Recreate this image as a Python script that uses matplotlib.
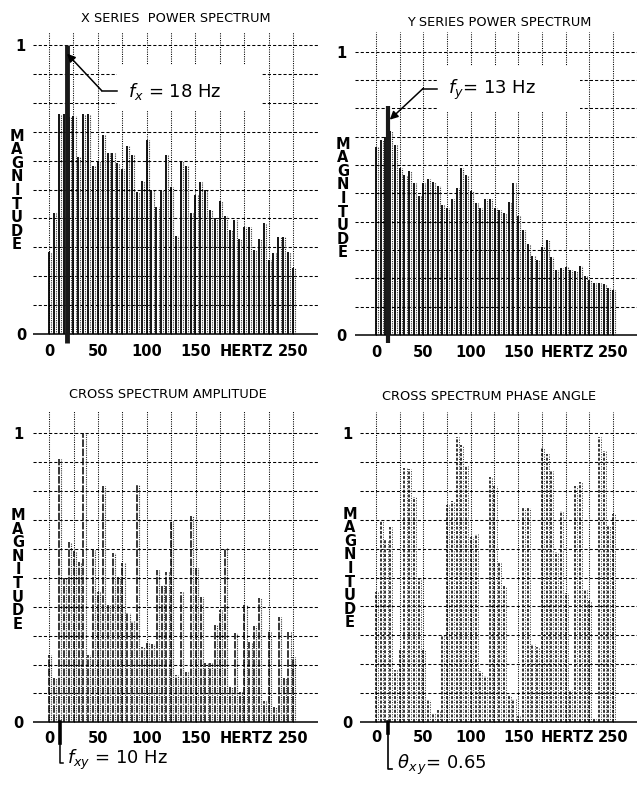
import matplotlib
matplotlib.use("Agg")
import matplotlib.pyplot as plt
from matplotlib.patches import Rectangle

W, H = 640, 787

# ---------------- data ----------------
FREQ_HZ = list(range(0, 255, 5))

X_POWER = [0.285, 0.42, 0.76, 0.76, 0.75, 0.754, 0.613, 0.76, 0.76, 0.58,
           0.60, 0.69, 0.625, 0.625, 0.59, 0.57, 0.65, 0.62, 0.49, 0.53,
           0.67, 0.50, 0.44, 0.50, 0.62, 0.51, 0.34, 0.60, 0.58, 0.42,
           0.48, 0.527, 0.50, 0.43, 0.40, 0.46, 0.41, 0.36, 0.395, 0.33,
           0.37, 0.37, 0.29, 0.33, 0.385, 0.256, 0.28, 0.337, 0.337, 0.285,
           0.23]

Y_POWER = [0.665, 0.69, 0.70, 0.72, 0.67, 0.59, 0.565, 0.58, 0.535, 0.49,
           0.535, 0.55, 0.54, 0.525, 0.46, 0.45, 0.48, 0.52, 0.59, 0.565,
           0.51, 0.465, 0.45, 0.48, 0.48, 0.45, 0.44, 0.43, 0.47, 0.535,
           0.42, 0.37, 0.32, 0.28, 0.265, 0.31, 0.335, 0.275, 0.23, 0.235,
           0.24, 0.23, 0.227, 0.243, 0.21, 0.195, 0.185, 0.185, 0.18, 0.165,
           0.16]

CROSS_AMP = [0.233, 0.155, 0.91, 0.50, 0.625, 0.594, 0.556, 1.0, 0.233, 0.596,
             0.45, 0.818, 0.406, 0.585, 0.504, 0.552, 0.377, 0.35, 0.82, 0.26,
             0.273, 0.27, 0.527, 0.475, 0.521, 0.70, 0.164, 0.452, 0.175, 0.714,
             0.533, 0.435, 0.204, 0.204, 0.337, 0.389, 0.602, 0.123, 0.308, 0.106,
             0.406, 0.279, 0.333, 0.429, 0.072, 0.316, 0.054, 0.366, 0.155, 0.311,
             0.227]

CROSS_PHASE = [0.45, 0.697, 0.63, 0.675, 0.18, 0.25, 0.88, 0.875, 0.78, 0.50,
               0.25, 0.075, 0.03, 0.04, 0.30, 0.75, 0.765, 0.986, 0.96, 0.887,
               0.64, 0.65, 0.175, 0.16, 0.85, 0.817, 0.555, 0.47, 0.09, 0.08,
               0.02, 0.74, 0.74, 0.27, 0.26, 0.95, 0.93, 0.87, 0.59, 0.73,
               0.445, 0.11, 0.817, 0.83, 0.457, 0.42, 0.01, 0.986, 0.94, 0.68,
               0.72]

TITLES = ["X SERIES  POWER SPECTRUM", "Y SERIES POWER SPECTRUM",
          "CROSS SPECTRUM AMPLITUDE", "CROSS SPECTRUM PHASE ANGLE"]
XTICK_VALUES = [0, 50, 100, 150, 202, 250]
XTICK_LABELS = ["0", "50", "100", "150", "HERTZ", "250"]
YTICK_VALUES = [0, 1]
YTICK_LABELS = ["0", "1"]
GRID_Y = [0.1, 0.2, 0.3, 0.4, 0.5, 0.6, 0.7, 0.8, 0.9, 1.0]
GRID_X = [0, 25, 50, 75, 100, 125, 150, 175, 200, 225, 250]
YLABEL = "MAGNITUDE"

X_PEAK_HZ, X_PEAK_MAG = 18, 1.0
Y_PEAK_HZ, Y_PEAK_MAG = 13, 0.81
FXY_HZ = 10
THETA_XY = 0.65

# ---------------- layout helpers ----------------
fig = plt.figure(figsize=(W / 100, H / 100), dpi=100)
fig.patch.set_facecolor("white")


def make_ax(x0, kx, y0, ky, xlim, ylim):
    left = (x0 + xlim[0] * kx) / W
    width = (xlim[1] - xlim[0]) * kx / W
    bottom_px = y0 - ylim[0] * ky
    top_px = y0 - ylim[1] * ky
    ax = fig.add_axes([left, 1 - bottom_px / H, width, (bottom_px - top_px) / H])
    ax.set_xlim(xlim)
    ax.set_ylim(ylim)
    ax.set_facecolor("none")
    for s in ax.spines.values():
        s.set_visible(False)
    return ax


def fpx(x, y):
    return x / W, 1 - y / H


def draw_panel(ax, values, title, title_xy, ylab_xy, ypad, xpad, main_style,
               edge_style):
    xl = ax.get_xlim()
    yl = ax.get_ylim()
    ax.hlines(GRID_Y, xl[0], xl[1], colors="black", linestyles=(0, (3, 2)),
              linewidth=0.75, zorder=1)
    ax.vlines(GRID_X, 0, yl[1], colors="black", linestyles=(0, (1, 1.2)),
              linewidth=0.75, zorder=1)
    ax.axhline(0, color="black", linewidth=1.1, zorder=2)
    # each spectral bar: solid/dashed left stroke + dotted right stroke
    ax.vlines(FREQ_HZ, 0, values, colors="black", **main_style, zorder=3)
    ax.vlines([f + 2.2 for f in FREQ_HZ], 0, values, colors="#333333",
              **edge_style, zorder=3)
    ax.set_xticks(XTICK_VALUES)
    ax.set_xticklabels(XTICK_LABELS, fontsize=10.5, fontweight="bold")
    ax.set_yticks(YTICK_VALUES)
    ax.set_yticklabels(YTICK_LABELS, fontsize=10.5, fontweight="bold")
    ax.tick_params(axis="x", length=0, pad=xpad)
    ax.tick_params(axis="y", length=0, pad=ypad)
    fx, fy = fpx(*title_xy)
    fig.text(fx, fy, title, ha="center", va="center", fontsize=9.3)
    lx, ly = fpx(*ylab_xy)
    fig.text(lx, ly, "\n".join(YLABEL), ha="center", va="center",
             fontsize=10.5, fontweight="bold", linespacing=0.88)


# ---------------- panels ----------------
ax1 = make_ax(49, 0.976, 334, 289, (-16.4, 275.6), (-0.02, 1.045))
ax2 = make_ax(376, 0.948, 335, 283.3, (-22, 275), (-0.02, 1.07))
ax3 = make_ax(49.3, 0.976, 722.3, 289, (-16.7, 275), (-0.02, 1.076))
ax4 = make_ax(376, 0.948, 721.7, 288.3, (-17, 275), (-0.02, 1.075))

dotted = dict(linewidth=0.8, linestyles=(0, (1, 1)))
draw_panel(ax1, X_POWER, TITLES[0], (176, 18), (17, 190.5), 5, 3,
           dict(linewidth=1.3), dotted)
draw_panel(ax2, Y_POWER, TITLES[1], (499, 22), (343, 198.5), 6.5, 3,
           dict(linewidth=1.3), dotted)
draw_panel(ax3, CROSS_AMP, TITLES[2], (168, 395), (18, 570), 6.5, 2,
           dict(linewidth=1.1, linestyles=(0, (5, 1))), dotted)
draw_panel(ax4, CROSS_PHASE, TITLES[3], (489, 397), (350, 568.5), 5, 2,
           dict(linewidth=1.1, linestyles=(0, (2, 1))),
           dict(linewidth=0.7, linestyles=(0, (1, 1.5))))

# ---------------- annotations ----------------
# X series peak
ax1.add_patch(Rectangle((70, 0.775), 148, 0.155, facecolor="white",
                        edgecolor="none", zorder=2.5))
ax1.vlines([X_PEAK_HZ], -0.03, X_PEAK_MAG, colors="#1a1a1a", linewidth=3.5,
           zorder=4, clip_on=False)
ax1.plot([54, 69.4], [0.842, 0.842], color="black", linewidth=1.1, zorder=5)
ax1.annotate("", xy=(X_PEAK_HZ + 0.5, 0.97), xytext=(54, 0.842),
             arrowprops=dict(arrowstyle="-|>", color="black", lw=1.1,
                             mutation_scale=12, shrinkA=0, shrinkB=0), zorder=5)
ax1.text(81, 0.838, r"$f_x$ = 18 Hz", fontsize=13, va="center", ha="left",
         zorder=6)

# Y series peak
ax2.add_patch(Rectangle((64.3, 0.79), 151, 0.16, facecolor="white",
                        edgecolor="none", zorder=2.5))
ax2.vlines([Y_PEAK_HZ], -0.03, Y_PEAK_MAG, colors="#1a1a1a", linewidth=3,
           zorder=4, clip_on=False)
ax2.plot([49.6, 64.3], [0.87, 0.87], color="black", linewidth=1.1, zorder=5)
ax2.annotate("", xy=(Y_PEAK_HZ + 1.5, 0.76), xytext=(49.6, 0.87),
             arrowprops=dict(arrowstyle="-|>", color="black", lw=1.1,
                             mutation_scale=12, shrinkA=0, shrinkB=0), zorder=5)
ax2.text(76, 0.865, r"$f_y$= 13 Hz", fontsize=13, va="center", ha="left",
         zorder=6)

# Cross amplitude marker
ax3.plot([FXY_HZ + 0.5, FXY_HZ + 0.5, FXY_HZ + 4.1], [0, -0.142, -0.142],
         color="black", linewidth=1.1, clip_on=False, zorder=5)
ax3.plot([FXY_HZ + 0.5, FXY_HZ + 0.5], [0, -0.07], color="black",
         linewidth=2.6, clip_on=False, zorder=5)
ax3.text(18.3, -0.131, r"$f_{xy}$ = 10 Hz", fontsize=13, va="center",
         ha="left", clip_on=False)

# Cross phase marker
ax4.plot([12.3, 12.3, 16.9], [0, -0.163, -0.163], color="black",
         linewidth=1.2, clip_on=False, zorder=5)
ax4.plot([12.3, 12.3], [0, -0.04], color="black", linewidth=2.6,
         clip_on=False, zorder=5)
ax4.text(22, -0.149, r"$\theta_{x\,y}$= " + f"{THETA_XY:.2f}", fontsize=13,
         va="center", ha="left", clip_on=False)

fig.savefig("out.png", dpi=100, facecolor="white")
